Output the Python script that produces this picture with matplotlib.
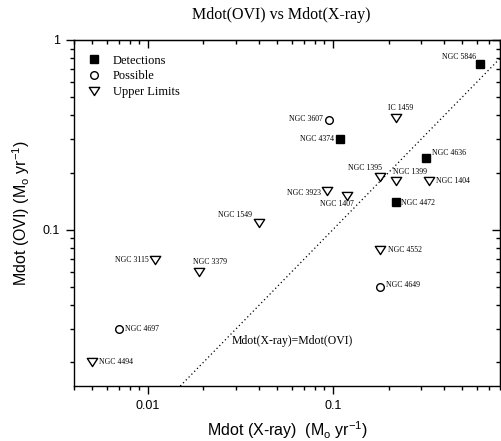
import matplotlib
matplotlib.use("Agg")
import matplotlib.pyplot as plt
from matplotlib.ticker import LogLocator, NullFormatter, FixedLocator, FixedFormatter
from matplotlib.lines import Line2D
from matplotlib.path import Path

plt.rcParams['mathtext.fontset'] = 'custom'
plt.rcParams['mathtext.rm'] = 'Liberation Sans'
plt.rcParams['mathtext.it'] = 'Liberation Sans:italic'

# Mass-deposition rates (Msun / yr)
det_names = ["NGC 5846", "NGC 4374", "NGC 4636", "NGC 4472"]
det_xray = [0.62, 0.11, 0.32, 0.22]
det_ovi = [0.75, 0.30, 0.24, 0.14]

pos_names = ["NGC 3607", "NGC 4697", "NGC 4649"]
pos_xray = [0.095, 0.007, 0.18]
pos_ovi = [0.38, 0.030, 0.050]

ul_names = ["IC 1459", "NGC 1395", "NGC 1399", "NGC 1404", "NGC 3923", "NGC 1407",
            "NGC 1549", "NGC 3115", "NGC 3379", "NGC 4494", "NGC 4552"]
ul_xray = [0.22, 0.18, 0.22, 0.33, 0.093, 0.12, 0.040, 0.011, 0.019, 0.005, 0.18]
ul_ovi = [0.39, 0.19, 0.18, 0.18, 0.16, 0.15, 0.108, 0.069, 0.060, 0.020, 0.078]

x_ticks = [0.01, 0.1]
x_ticklabels = ["0.01", "0.1"]
y_ticks = [0.1, 1]
y_ticklabels = ["0.1", "1"]

# label placement: (dx, dy) in pixels, horizontal alignment
label_style = {
    "NGC 5846": (-4, 7, "right"),
    "IC 1459": (-8, 10, "left"),
    "NGC 3607": (-6, 1, "right"),
    "NGC 4374": (-6, 0, "right"),
    "NGC 4636": (6, 5, "left"),
    "NGC 1395": (2, 9, "right"),
    "NGC 1399": (-3, 9, "left"),
    "NGC 1404": (7, 0, "left"),
    "NGC 3923": (-6, -2, "right"),
    "NGC 1407": (6, -8, "right"),
    "NGC 4472": (5, -1, "left"),
    "NGC 1549": (-7, 8, "right"),
    "NGC 3115": (-7, 0, "right"),
    "NGC 3379": (-6, 10, "left"),
    "NGC 4697": (6, 0, "left"),
    "NGC 4494": (7, 0, "left"),
    "NGC 4552": (8, 0, "left"),
    "NGC 4649": (6, 2, "left"),
}

# slightly squat downward triangle for upper limits
tri_down = Path([(-1.0, 0.78), (1.0, 0.78), (0.0, -0.78), (-1.0, 0.78)],
                [Path.MOVETO, Path.LINETO, Path.LINETO, Path.CLOSEPOLY])

fig = plt.figure(figsize=(5.01, 4.41), dpi=100)
ax = fig.add_axes([74 / 501, 1 - 386 / 441, 426 / 501, 346 / 441])
ax.set_xscale("log")
ax.set_yscale("log")
ax.set_xlim(0.004, 0.8)
ax.set_ylim(0.015, 1)

serif = "Liberation Serif"
sans = "Liberation Sans"

sq_kw = dict(linestyle="none", marker="s", ms=5.3, color="black")
circ_kw = dict(linestyle="none", marker="o", ms=5.5, mfc="white", mec="black", mew=1.0)
tri_kw = dict(linestyle="none", marker=tri_down, ms=7.5, mfc="white", mec="black", mew=1.0)

ax.plot(det_xray, det_ovi, **sq_kw)
ax.plot(pos_xray, pos_ovi, **circ_kw)
ax.plot(ul_xray, ul_ovi, **tri_kw)

for names, xs, ys in ((det_names, det_xray, det_ovi),
                      (pos_names, pos_xray, pos_ovi),
                      (ul_names, ul_xray, ul_ovi)):
    for n, xv, yv in zip(names, xs, ys):
        dx, dy, ha = label_style[n]
        ax.annotate(n, (xv, yv), xytext=(dx, dy), textcoords="offset pixels",
                    ha=ha, va="center", fontsize=5.6, family=serif)

# one-to-one line
ax.axline((0.01, 0.01), (0.1, 0.1), color="black", lw=0.9,
          linestyle=(0, (1, 2.2)))
ax.text(0.0285, 0.026, "Mdot(X-ray)=Mdot(OVI)", fontsize=8.5, family=serif,
        ha="left", va="center")

# ticks
for axis, ticks, labels in ((ax.xaxis, x_ticks, x_ticklabels),
                            (ax.yaxis, y_ticks, y_ticklabels)):
    axis.set_major_locator(FixedLocator(ticks))
    axis.set_major_formatter(FixedFormatter(labels))
    axis.set_minor_locator(LogLocator(base=10, subs=range(2, 10), numticks=20))
    axis.set_minor_formatter(NullFormatter())
ax.tick_params(which="major", direction="out", length=6, width=1,
               labelsize=9, pad=4)
ax.tick_params(which="minor", direction="out", length=3, width=1)
for lab in ax.get_xticklabels() + ax.get_yticklabels():
    lab.set_family(sans)

top = ax.secondary_xaxis("top")
right = ax.secondary_yaxis("right")
for sec, axis in ((top, top.xaxis), (right, right.yaxis)):
    axis.set_major_locator(FixedLocator([0.01, 0.1, 1]))
    axis.set_minor_locator(LogLocator(base=10, subs=range(2, 10), numticks=20))
    axis.set_major_formatter(NullFormatter())
    axis.set_minor_formatter(NullFormatter())
    sec.tick_params(which="major", direction="in", length=6, width=1)
    sec.tick_params(which="minor", direction="in", length=3, width=1)

for s in ax.spines.values():
    s.set_linewidth(1)

ax.set_xlabel("Mdot (X-ray)  (M$_\\mathrm{o}$ yr$^{-1}$)", fontsize=11.5,
              family=sans, labelpad=5)
ax.set_ylabel("Mdot (OVI) (M$_\\mathrm{o}$ yr$^{-1}$)", fontsize=11.5,
              family=sans, labelpad=8)
fig.text(281 / 501, 1 - 15 / 441, "Mdot(OVI) vs Mdot(X-ray)", fontsize=11.5,
         family=serif, ha="center", va="center")

handles = [Line2D([], [], **sq_kw), Line2D([], [], **circ_kw), Line2D([], [], **tri_kw)]
ax.legend(handles, ["Detections", "Possible", "Upper Limits"], loc="upper left",
          bbox_to_anchor=(0.003, 0.99), frameon=False, handlelength=1.2,
          handletextpad=0.9, labelspacing=0.3, prop={"family": serif, "size": 9})

fig.savefig("out.png", dpi=100)
